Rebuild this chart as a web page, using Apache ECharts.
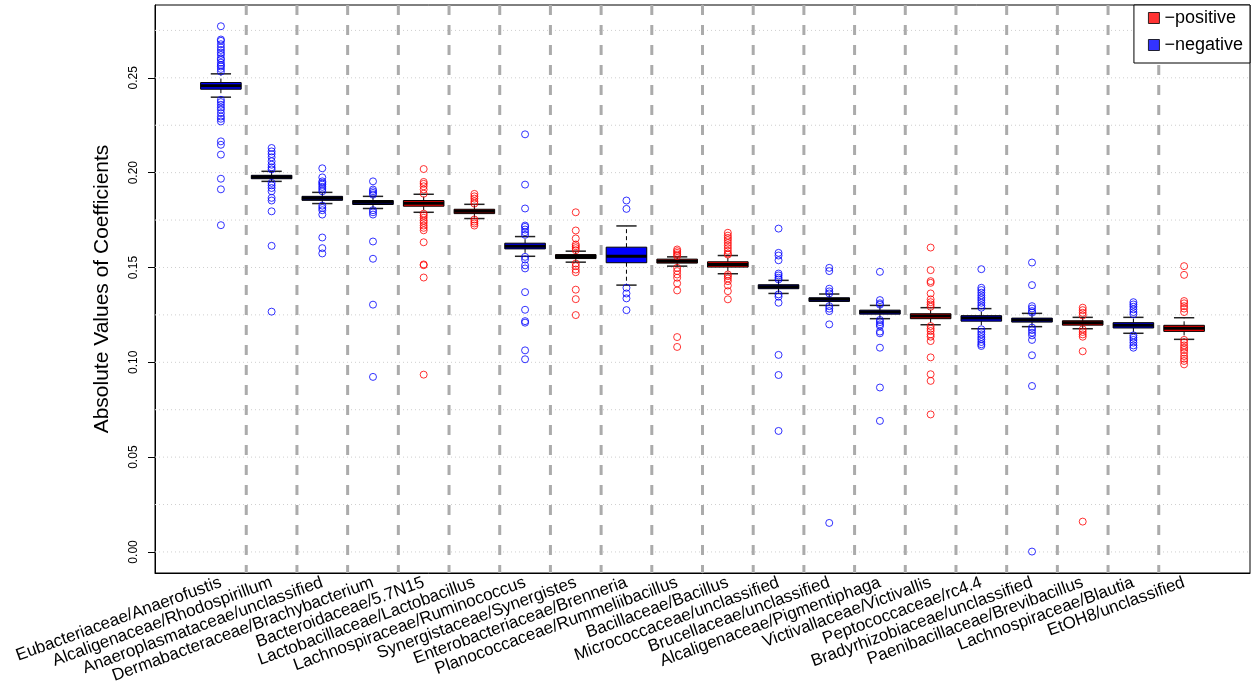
<!DOCTYPE html>
<html><head><meta charset="utf-8">
<script src="https://cdn.jsdelivr.net/npm/echarts@6/dist/echarts.min.js"></script>
<style>html,body{margin:0;padding:0;background:#fff}#c{width:1252px;height:694px}</style>
</head><body><div id="c"></div>
<script>
const categories = [
  "Eubacteriaceae/Anaerofustis", "Alcaligenaceae/Rhodospirillum", "Anaeroplasmataceae/unclassified",
  "Dermabacteraceae/Brachybacterium", "Bacteroidaceae/5.7N15", "Lactobacillaceae/Lactobacillus",
  "Lachnospiraceae/Ruminococcus", "Synergistaceae/Synergistes", "Enterobacteriaceae/Brenneria",
  "Planococcaceae/Rummeliibacillus", "Bacillaceae/Bacillus", "Micrococcaceae/unclassified",
  "Brucellaceae/unclassified", "Alcaligenaceae/Pigmentiphaga", "Victivallaceae/Victivallis",
  "Peptococcaceae/rc4.4", "Bradyrhizobiaceae/unclassified", "Paenibacillaceae/Brevibacillus",
  "Lachnospiraceae/Blautia", "EtOH8/unclassified"
];
const signs = ["negative","negative","negative","negative","positive","positive","negative","positive","negative","positive",
               "positive","negative","negative","negative","positive","negative","negative","positive","negative","positive"];
const lowWhisker  = [0.2398,0.1954,0.1837,0.1811,0.1791,0.1758,0.1559,0.1528,0.1407,0.1507,0.1467,0.1363,0.1300,0.1230,0.1198,0.1177,0.1188,0.1177,0.1153,0.1121];
const q1          = [0.2440,0.1968,0.1854,0.1832,0.1823,0.1784,0.1598,0.1547,0.1525,0.1523,0.1502,0.1388,0.1321,0.1254,0.1230,0.1217,0.1212,0.1196,0.1181,0.1163];
const median      = [0.2458,0.1977,0.1865,0.1844,0.1838,0.1796,0.1612,0.1558,0.1559,0.1533,0.1516,0.1398,0.1332,0.1265,0.1244,0.1233,0.1223,0.1209,0.1195,0.1179];
const q3          = [0.2475,0.1986,0.1875,0.1853,0.1853,0.1807,0.1628,0.1568,0.1607,0.1544,0.1530,0.1409,0.1340,0.1275,0.1256,0.1246,0.1233,0.1219,0.1209,0.1195];
const highWhisker = [0.2521,0.2007,0.1896,0.1875,0.1886,0.1833,0.1663,0.1586,0.1719,0.1556,0.1563,0.1432,0.1360,0.1300,0.1288,0.1283,0.1258,0.1237,0.1237,0.1235];
const outliers = [
  [0.2772,0.2702,0.2695,0.2677,0.2661,0.2647,0.2633,0.2621,0.2603,0.2595,0.2580,0.2568,0.2560,0.2547,0.2533,
   0.2384,0.2372,0.2358,0.2344,0.2332,0.2314,0.2296,0.2284,0.2270,0.2165,0.2147,0.2095,0.1968,0.1912,0.1723],
  [0.2130,0.2112,0.2098,0.2081,0.2060,0.2042,0.2028,0.2017,0.1946,0.1933,0.1919,0.1902,0.1867,0.1853,0.1796,0.1614,0.1267],
  [0.2023,0.1975,0.1954,0.1946,0.1937,0.1925,0.1914,0.1902,0.1826,0.1814,0.1802,0.1779,0.1658,0.1602,0.1574],
  [0.1954,0.1911,0.1902,0.1893,0.1884,0.1802,0.1791,0.1779,0.1637,0.1546,0.1304,0.0923],
  [0.2019,0.1951,0.1941,0.1928,0.1911,0.1889,0.1784,0.1774,0.1762,0.1747,0.1735,0.1721,0.1709,0.1696,0.1633,0.1516,0.1512,0.1447,0.0935],
  [0.1888,0.1875,0.1863,0.1849,0.1837,0.1753,0.1742,0.1732,0.1721],
  [0.2202,0.1937,0.1811,0.1721,0.1714,0.1700,0.1686,0.1672,0.1556,0.1542,0.1511,0.1495,0.1370,0.1277,0.1217,0.1209,0.1063,0.1016],
  [0.1791,0.1695,0.1653,0.1621,0.1612,0.1602,0.1591,0.1521,0.1507,0.1489,0.1475,0.1383,0.1333,0.1249],
  [0.1853,0.1809,0.1393,0.1363,0.1337,0.1275],
  [0.1595,0.1586,0.1577,0.1568,0.1560,0.1498,0.1481,0.1463,0.1446,0.1416,0.1379,0.1133,0.1081],
  [0.1683,0.1668,0.1656,0.1644,0.1630,0.1616,0.1602,0.1588,0.1574,0.1568,0.1463,0.1454,0.1442,0.1428,0.1405,0.1375,0.1332],
  [0.1705,0.1577,0.1563,0.1538,0.1468,0.1458,0.1446,0.1437,0.1358,0.1346,0.1314,0.1039,0.0933,0.0638],
  [0.1498,0.1481,0.1388,0.1374,0.1363,0.1296,0.1283,0.1270,0.1200,0.0153],
  [0.1477,0.1328,0.1311,0.1304,0.1223,0.1212,0.1200,0.1191,0.1162,0.1153,0.1077,0.0867,0.0691],
  [0.1605,0.1486,0.1428,0.1419,0.1363,0.1332,0.1317,0.1305,0.1293,0.1191,0.1177,0.1165,0.1147,0.1135,0.1112,0.1026,0.0937,0.0902,0.0725],
  [0.1491,0.1393,0.1381,0.1367,0.1353,0.1340,0.1328,0.1314,0.1300,0.1288,0.1174,0.1160,0.1147,0.1133,0.1121,0.1107,0.1095,0.1086],
  [0.1526,0.1407,0.1296,0.1284,0.1270,0.1262,0.1183,0.1170,0.1156,0.1142,0.1118,0.1037,0.0875,0.0002],
  [0.1288,0.1275,0.1261,0.1247,0.1174,0.1160,0.1147,0.1135,0.1058,0.0160],
  [0.1317,0.1305,0.1293,0.1279,0.1265,0.1253,0.1142,0.1130,0.1118,0.1104,0.1089,0.1077],
  [0.1507,0.1461,0.1323,0.1311,0.1296,0.1283,0.1265,0.1118,0.1104,0.1089,0.1077,0.1065,0.1051,0.1033,0.1019,0.1007,0.0989]
];
const yTicks = [0, 0.05, 0.10, 0.15, 0.20, 0.25];
const gridLevels = [0, 0.025, 0.05, 0.075, 0.10, 0.125, 0.15, 0.175, 0.20, 0.225, 0.25, 0.275];
const separators = [1.5,2.5,3.5,4.5,5.5,6.5,7.5,8.5,9.5,10.5,11.5,12.5,13.5,14.5,15.5,16.5,17.5,18.5,19.5];
const legendNames = {positive: "\u2212positive", negative: "\u2212negative"};

const COLORS = {positive: '#FF0000', negative: '#0000FF'};
const X_MIN = -0.3, X_MAX = 21.3, Y_MIN = -0.0111, Y_MAX = 0.2884;
const FONT = 'Liberation Sans, Arial, Helvetica, sans-serif';

const boxData = categories.map((c, i) => [i + 1, lowWhisker[i], q1[i], median[i], q3[i], highWhisker[i], signs[i] === 'positive' ? 1 : 0]);
function pts(sign) {
  const out = [];
  outliers.forEach((arr, i) => { if (signs[i] === sign) arr.forEach(v => out.push([i + 1, v])); });
  return out;
}

function renderBox(params, api) {
  const x = api.value(0);
  const lo = api.value(1), a = api.value(2), m = api.value(3), b = api.value(4), hi = api.value(5);
  const col = api.value(6) === 1 ? COLORS.positive : COLORS.negative;
  const L = api.coord([x - 0.4, a])[0], R = api.coord([x + 0.4, a])[0];
  const sL = api.coord([x - 0.2, a])[0], sR = api.coord([x + 0.2, a])[0];
  const cx = api.coord([x, a])[0];
  const yq1 = api.coord([x, a])[1], yq3 = api.coord([x, b])[1], ym = api.coord([x, m])[1];
  const ylo = api.coord([x, lo])[1], yhi = api.coord([x, hi])[1];
  const dash = {stroke: '#000', lineWidth: 1, lineDash: [4, 3]};
  const staple = {stroke: '#222', lineWidth: 1.5};
  return {type: 'group', children: [
    {type: 'line', shape: {x1: cx, y1: yq3, x2: cx, y2: yhi}, style: dash},
    {type: 'line', shape: {x1: cx, y1: yq1, x2: cx, y2: ylo}, style: dash},
    {type: 'line', shape: {x1: sL, y1: yhi, x2: sR, y2: yhi}, style: staple},
    {type: 'line', shape: {x1: sL, y1: ylo, x2: sR, y2: ylo}, style: staple},
    {type: 'rect', shape: {x: L, y: yq3, width: R - L, height: yq1 - yq3}, style: {fill: col, stroke: '#000', lineWidth: 1}},
    {type: 'line', shape: {x1: L, y1: ym, x2: R, y2: ym}, style: {stroke: '#000', lineWidth: 3}}
  ]};
}
function renderGrid(params, api) {
  const v = api.value(0);
  const p1 = api.coord([X_MIN, v]), p2 = api.coord([X_MAX, v]);
  return {type: 'line', shape: {x1: p1[0], y1: p1[1], x2: p2[0], y2: p2[1]}, style: {stroke: '#cfcfcf', lineWidth: 1, lineDash: [1, 3]}};
}
function renderSep(params, api) {
  const v = api.value(0);
  const p1 = api.coord([v, Y_MAX]), p2 = api.coord([v, Y_MIN]);
  return {type: 'line', shape: {x1: p1[0], y1: p1[1], x2: p2[0], y2: p2[1]}, style: {stroke: '#ababab', lineWidth: 3, lineDash: [10, 10]}};
}

const chart = echarts.init(document.getElementById('c'), null, {renderer: 'canvas'});
chart.setOption({
  animation: false,
  backgroundColor: '#fff',
  textStyle: {fontFamily: FONT},
  grid: {left: 155, top: 5, width: 1095, height: 568, show: true, borderColor: '#000', borderWidth: 1, backgroundColor: 'transparent'},
  legend: {
    orient: 'vertical', right: 2, top: 5, itemWidth: 11, itemHeight: 11, itemGap: 9,
    padding: [4, 7, 9, 14], borderColor: '#000', borderWidth: 1, backgroundColor: '#fff',
    textStyle: {fontSize: 18, color: '#000', fontFamily: FONT},
    data: [
      {name: legendNames.positive, icon: 'rect', itemStyle: {color: COLORS.positive, borderColor: '#000', borderWidth: 1}},
      {name: legendNames.negative, icon: 'rect', itemStyle: {color: COLORS.negative, borderColor: '#000', borderWidth: 1}}
    ]
  },
  xAxis: {
    type: 'value', min: X_MIN, max: X_MAX,
    axisLine: {show: true, onZero: false, lineStyle: {color: '#000', width: 1}},
    axisTick: {show: false}, splitLine: {show: false},
    axisLabel: {
      customValues: categories.map((c, i) => i + 1),
      formatter: v => categories[Math.round(v) - 1] || '',
      rotate: 20, fontSize: 17, margin: 9, color: '#000', fontFamily: FONT
    }
  },
  yAxis: {
    type: 'value', min: Y_MIN, max: Y_MAX,
    axisLine: {show: true, onZero: false, lineStyle: {color: '#000', width: 1}},
    axisTick: {show: true, customValues: yTicks, length: 7, lineStyle: {color: '#000'}},
    axisLabel: {customValues: yTicks, rotate: 90, fontSize: 12, margin: 15, color: '#000', fontFamily: FONT, formatter: v => v.toFixed(2)},
    splitLine: {show: false},
    name: 'Absolute Values of Coefficients', nameLocation: 'middle', nameRotate: 90, nameGap: 42,
    nameTextStyle: {fontSize: 21, color: '#000', fontFamily: FONT}
  },
  series: [
    {type: 'custom', name: 'grid', silent: true, renderItem: renderGrid, data: gridLevels.map(v => [v]), encode: {y: 0}, z: 1, clip: true},
    {type: 'custom', name: 'sep', silent: true, renderItem: renderSep, data: separators.map(v => [v]), encode: {x: 0}, z: 2, clip: true},
    {type: 'custom', name: 'box', renderItem: renderBox, data: boxData, encode: {x: 0, y: [1, 5]}, z: 3},
    {type: 'scatter', name: legendNames.positive, data: pts('positive'), symbol: 'circle', symbolSize: 7,
     itemStyle: {color: 'rgba(0,0,0,0)', borderColor: COLORS.positive, borderWidth: 1}, z: 4},
    {type: 'scatter', name: legendNames.negative, data: pts('negative'), symbol: 'circle', symbolSize: 7,
     itemStyle: {color: 'rgba(0,0,0,0)', borderColor: COLORS.negative, borderWidth: 1}, z: 4}
  ]
});
</script></body></html>
